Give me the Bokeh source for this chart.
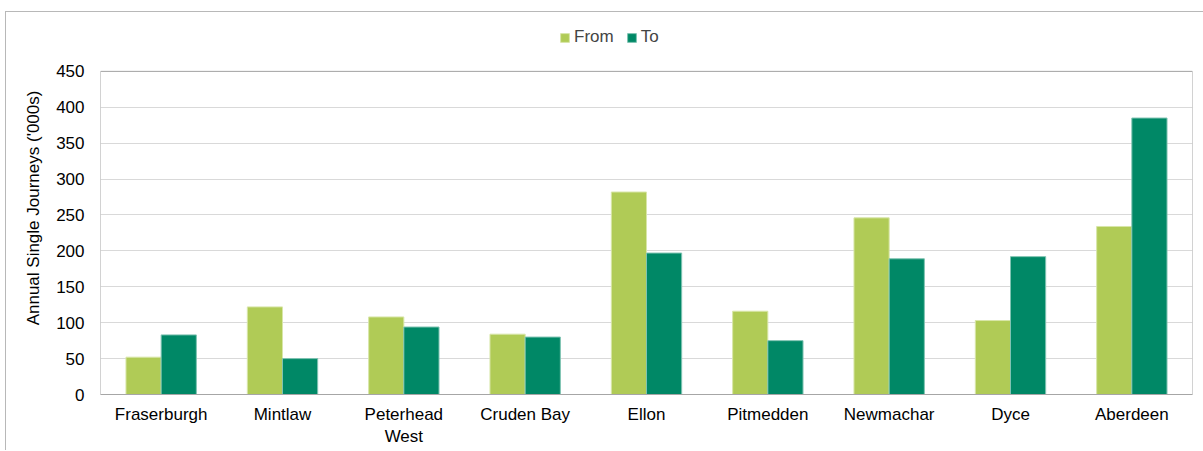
from bokeh.plotting import figure
from bokeh.models import ColumnDataSource, FactorRange, Legend, LegendItem, Range1d, FixedTicker
from bokeh.transform import dodge
from bokeh.embed import file_html
from bokeh.resources import INLINE

categories = ["Fraserburgh", "Mintlaw", "Peterhead\nWest", "Cruden Bay", "Ellon",
              "Pitmedden", "Newmachar", "Dyce", "Aberdeen"]
from_vals = [52, 122, 108, 84, 282, 116, 246, 103, 234]
to_vals = [83, 50, 94, 80, 197, 75, 189, 192, 385]
series_names = ["From", "To"]
y_ticks = [0, 50, 100, 150, 200, 250, 300, 350, 400, 450]
colors = ["#B0CB56", "#008866"]

source = ColumnDataSource(data=dict(cat=categories, frm=from_vals, to=to_vals))

FONT = "Liberation Sans"
Y_MAX = y_ticks[-1]
# extra headroom above the value axis holds the legend (frame px 374 vs 324 for 0..450)
y_end = Y_MAX * 374.0 / 324.0

p = figure(x_range=FactorRange(*categories), y_range=Range1d(0, y_end),
           width=1198, height=439, output_backend="svg", toolbar_location=None,
           min_border_left=94, min_border_right=12, min_border_top=9, min_border_bottom=57)
p.styles = {"margin-left": "5px", "margin-top": "11px",
            "border-left": "1px solid #b8b8b8", "border-top": "1px solid #b8b8b8"}

# plot-area box (0..450 on the value axis, full category span)
p.quad(left=0, right=len(categories), bottom=0, top=Y_MAX,
       fill_color=None, line_color="#a6a6a6", line_width=1)

r1 = p.vbar(x=dodge("cat", -0.145, range=p.x_range), top="frm", width=0.29, source=source,
            fill_color=colors[0], line_color="#d8e6a8", line_width=1)
r2 = p.vbar(x=dodge("cat", 0.145, range=p.x_range), top="to", width=0.29, source=source,
            fill_color=colors[1], line_color="#7fc3b2", line_width=1)

p.outline_line_color = None
p.xgrid.grid_line_color = None
p.ygrid.ticker = FixedTicker(ticks=y_ticks)
p.ygrid.grid_line_color = "#d9d9d9"
p.ygrid.grid_line_width = 1

p.yaxis.ticker = FixedTicker(ticks=y_ticks)
p.yaxis.axis_label = "Annual Single Journeys ('000s)"
p.yaxis.axis_label_text_font = FONT
p.yaxis.axis_label_text_font_style = "normal"
p.yaxis.axis_label_text_font_size = "17px"
p.yaxis.axis_label_text_color = "#000000"
p.yaxis.axis_label_standoff = 10
for ax in (p.xaxis, p.yaxis):
    ax.major_label_text_font = FONT
    ax.major_label_text_font_size = "17px"
    ax.major_label_text_color = "#000000"
    ax.major_tick_line_color = None
    ax.minor_tick_line_color = None
    ax.major_tick_out = 0
    ax.major_tick_in = 0
p.yaxis.axis_line_color = None
p.xaxis.axis_line_color = "#a6a6a6"
p.yaxis.major_label_standoff = 16
p.xaxis.major_label_standoff = 10

legend = Legend(items=[LegendItem(label=series_names[0], renderers=[r1]),
                       LegendItem(label=series_names[1], renderers=[r2])],
                orientation="horizontal", location=(459, 347),
                label_text_font=FONT, label_text_font_size="17px",
                glyph_width=11, glyph_height=11, label_standoff=4, spacing=12,
                border_line_color=None, background_fill_alpha=0, padding=2, margin=0)
p.add_layout(legend, "center")

open("out.html", "w").write(file_html(p, INLINE))
